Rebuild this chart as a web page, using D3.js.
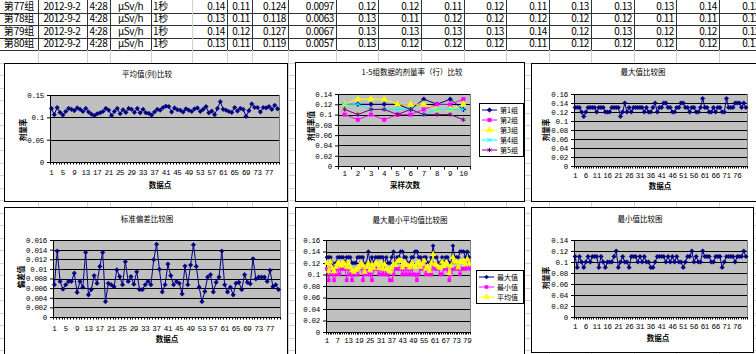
<!DOCTYPE html>
<html><head><meta charset="utf-8">
<script src="https://cdn.jsdelivr.net/npm/d3@7"></script>
<style>body{margin:0;background:#fff;overflow:hidden}svg{display:block}</style>
</head><body><svg id="c" width="756" height="354"></svg>
<script>
// ---------- data ----------
const tblGroup = ["第77组","第78组","第79组","第80组"];
const tblDate = ["2012-9-2","2012-9-2","2012-9-2","2012-9-2"];
const tblTime = ["4:28","4:28","4:28","4:28"];
const tblUnit = ["μSv/h","μSv/h","μSv/h","μSv/h"];
const tblInterval = ["1秒","1秒","1秒","1秒"];
const tblMax = [0.14,0.13,0.14,0.13];
const tblMin = [0.11,0.11,0.12,0.11];
const tblAvg = [0.124,0.118,0.127,0.119];
const tblSd = [0.0097,0.0063,0.0067,0.0057];
const tblSamples = [
 [0.12,0.12,0.11,0.12,0.11,0.13,0.13,0.13,0.14,0.13],
 [0.13,0.11,0.12,0.12,0.12,0.12,0.12,0.11,0.11,0.12],
 [0.13,0.13,0.13,0.13,0.14,0.12,0.13,0.12,0.12,0.12],
 [0.13,0.12,0.12,0.12,0.11,0.12,0.12,0.12,0.12,0.11]
];

const points = d3.range(1, 81);
const avgValues = [
 0.120,0.106,0.122,0.111,0.105,0.113,0.120,0.118,0.115,0.121,
 0.118,0.113,0.120,0.112,0.107,0.104,0.108,0.110,0.113,0.120,
 0.116,0.104,0.113,0.120,0.108,0.117,0.111,0.120,0.118,0.111,
 0.120,0.110,0.118,0.110,0.109,0.105,0.112,0.118,0.116,0.122,
 0.125,0.124,0.112,0.121,0.117,0.116,0.112,0.119,0.116,0.113,
 0.119,0.121,0.113,0.118,0.124,0.110,0.114,0.106,0.120,0.135,
 0.118,0.116,0.113,0.111,0.122,0.114,0.120,0.118,0.102,0.115,
 0.130,0.122,0.122,0.112,0.122,0.121,0.124,0.118,0.127,0.119];
const sdValues = [
 0.0067,0.0137,0.0074,0.0058,0.0067,0.0074,0.0074,0.0091,0.0051,0.0074,
 0.0062,0.0134,0.0046,0.0057,0.0086,0.0070,0.0105,0.0134,0.0032,0.0070,
 0.0067,0.0063,0.0098,0.0084,0.0067,0.0115,0.0074,0.0084,0.0068,0.0094,
 0.0057,0.0057,0.0067,0.0074,0.0067,0.0119,0.0151,0.0099,0.0052,0.0067,
 0.0110,0.0086,0.0067,0.0074,0.0070,0.0048,0.0106,0.0067,0.0108,0.0150,
 0.0105,0.0062,0.0032,0.0053,0.0083,0.0088,0.0052,0.0072,0.0083,0.0137,
 0.0067,0.0052,0.0062,0.0046,0.0070,0.0072,0.0057,0.0088,0.0072,0.0069,
 0.0121,0.0079,0.0083,0.0083,0.0083,0.0074,0.0097,0.0063,0.0067,0.0057];
const maxValues = [
 0.13,0.13,0.13,0.12,0.11,0.12,0.13,0.13,0.13,0.13,
 0.12,0.13,0.13,0.13,0.12,0.12,0.12,0.13,0.13,0.13,
 0.13,0.11,0.12,0.14,0.12,0.13,0.12,0.13,0.13,0.13,
 0.13,0.13,0.12,0.13,0.12,0.12,0.13,0.14,0.12,0.13,
 0.13,0.14,0.14,0.13,0.13,0.12,0.12,0.13,0.13,0.14,
 0.14,0.13,0.13,0.12,0.13,0.13,0.12,0.12,0.13,0.15,
 0.13,0.13,0.12,0.12,0.13,0.12,0.13,0.13,0.12,0.12,
 0.15,0.13,0.13,0.13,0.14,0.14,0.14,0.13,0.14,0.13];
const minValues = [
 0.11,0.09,0.11,0.10,0.09,0.10,0.11,0.10,0.11,0.11,
 0.11,0.09,0.11,0.10,0.09,0.10,0.10,0.10,0.11,0.12,
 0.09,0.10,0.11,0.10,0.10,0.09,0.11,0.11,0.11,0.10,
 0.11,0.10,0.11,0.10,0.10,0.09,0.09,0.10,0.11,0.11,
 0.11,0.11,0.10,0.11,0.10,0.11,0.10,0.11,0.10,0.10,
 0.09,0.10,0.11,0.11,0.12,0.10,0.11,0.10,0.10,0.12,
 0.11,0.11,0.11,0.10,0.10,0.11,0.11,0.11,0.09,0.10,
 0.11,0.11,0.11,0.11,0.10,0.11,0.11,0.11,0.12,0.11];

const samples = [1,2,3,4,5,6,7,8,9,10];
const group1 = [0.12,0.12,0.12,0.12,0.12,0.11,0.13,0.12,0.13,0.11];
const group2 = [0.10,0.09,0.10,0.09,0.10,0.10,0.11,0.12,0.12,0.13];
const group3 = [0.12,0.13,0.13,0.13,0.12,0.12,0.12,0.11,0.11,0.12];
const group4 = [0.12,0.12,0.11,0.11,0.11,0.11,0.10,0.11,0.11,0.11];
const group5 = [0.11,0.10,0.11,0.11,0.10,0.11,0.10,0.10,0.10,0.09];
const groupNames = ["第1组","第2组","第3组","第4组","第5组"];
const mmaNames = ["最大值","最小值","平均值"];

const ticks015 = [0,0.05,0.1,0.15];
const ticks014 = [0,0.02,0.04,0.06,0.08,0.1,0.12,0.14];
const ticks016 = [0,0.02,0.04,0.06,0.08,0.1,0.12,0.14,0.16];
const ticksSd = [0,0.002,0.004,0.006,0.008,0.01,0.012,0.014,0.016];

// ---------- drawing ----------
const NUM = '"Liberation Mono","DejaVu Sans Mono",monospace';
const CJK = '"Noto Sans CJK SC","Noto Sans",sans-serif';
const svg = d3.select("#c");

// spreadsheet grid
const colEdges = [38,87,110,151,192,227,252,288,336,378,421,464,506,549,591,634,676,719];
const gridG = svg.append("g");
for (let yy = 12.5; yy < 354; yy += 12.5) {
  const dark = yy <= 50;
  gridG.append("line").attr("x1",0).attr("x2",756).attr("y1",Math.round(yy)+.5).attr("y2",Math.round(yy)+.5)
    .attr("stroke", dark ? "#333" : "#d2d2d2");
}
colEdges.forEach(cx => {
  gridG.append("line").attr("x1",cx+.5).attr("x2",cx+.5).attr("y1",50).attr("y2",354).attr("stroke","#d2d2d2");
  gridG.append("line").attr("x1",cx+.5).attr("x2",cx+.5).attr("y1",0).attr("y2",50).attr("stroke", cx === 192 ? "#d2d2d2" : "#333");
});
// table text
const tg = svg.append("g").attr("font-family", CJK).attr("font-size", 10).attr("letter-spacing", -0.4).attr("fill", "#000");
const numRight = [227,252,288,336,378,421,464,506,549,591,634,676,719,762];
tblGroup.forEach((nm, r) => {
  const by = 6.3 + r * 12.5 + 3.6;
  tg.append("text").attr("x",19).attr("y",by).attr("text-anchor","middle").attr("letter-spacing",-0.2).text(nm);
  tg.append("text").attr("x",62).attr("y",by).attr("text-anchor","middle").text(tblDate[r]);
  tg.append("text").attr("x",98.5).attr("y",by).attr("text-anchor","middle").text(tblTime[r]);
  tg.append("text").attr("x",130.5).attr("y",by).attr("text-anchor","middle").text(tblUnit[r]);
  tg.append("text").attr("x",153).attr("y",by).attr("letter-spacing",-0.2).text(tblInterval[r]);
  const vals = [tblMax[r], tblMin[r], tblAvg[r], tblSd[r]].concat(tblSamples[r]);
  vals.forEach((v, i) => {
    tg.append("text").attr("x", numRight[i]-2).attr("y", by).attr("text-anchor","end").text(String(v));
  });
});

const symMap = {diamond:d3.symbolSquare, square:d3.symbolSquare, triangle:d3.symbolTriangle, times:d3.symbolTimes, asterisk:d3.symbolAsterisk};
function drawMarker(sel, s) {
  const stroke = s.marker === "times" || s.marker === "asterisk";
  sel.attr("d", d3.symbol().type(symMap[s.marker]).size(s.size)())
     .attr("fill", stroke ? "none" : s.color).attr("stroke", s.color).attr("stroke-width", stroke ? 1 : 0.3);
}

function drawChart(o) {
  const g = svg.append("g");
  const [bx0,by0,bx1,by1] = o.box;
  g.append("rect").attr("x",bx0+.5).attr("y",by0+.5).attr("width",bx1-bx0).attr("height",by1-by0)
    .attr("fill","#fff").attr("stroke","#000");
  const [px0,py0,px1,py1] = o.plot;
  const x = d3.scaleBand().domain(o.cats).range([px0,px1]);
  const y = d3.scaleLinear().domain([o.yTicks[0], o.yTicks[o.yTicks.length-1]]).range([py1,py0]);
  const bw = x.bandwidth();
  g.append("rect").attr("x",px0+.5).attr("y",py0+.5).attr("width",px1-px0).attr("height",py1-py0)
    .attr("fill","#c0c0c0").attr("stroke","#808080");
  g.selectAll(null).data(o.yTicks.slice(1)).join("line")
    .attr("x1",px0).attr("x2",px1)
    .attr("y1",d=>Math.round(y(d))+.5).attr("y2",d=>Math.round(y(d))+.5).attr("stroke","#000");
  const ya = g.append("g").attr("transform",`translate(${px0},0)`)
    .call(d3.axisLeft(y).tickValues(o.yTicks).tickSize(3).tickPadding(3).tickFormat(d=>String(d)));
  ya.select(".domain").attr("stroke","#000");
  ya.selectAll("line").attr("stroke","#000");
  ya.selectAll("text").attr("font-family",NUM).attr("font-size",7.5).attr("letter-spacing",-0.3).attr("fill","#000");
  // x axis
  g.append("line").attr("x1",px0).attr("x2",px1).attr("y1",py1+.5).attr("y2",py1+.5).attr("stroke","#000");
  const tks = o.cats.map(c=>x(c)).concat([px1]);
  g.selectAll(null).data(tks).join("line")
    .attr("x1",d=>Math.round(d)+.5).attr("x2",d=>Math.round(d)+.5)
    .attr("y1",py1).attr("y2",py1 + (o.cats.length > 20 ? 2.5 : 3.5)).attr("stroke","#000");
  g.selectAll(null).data(o.cats.filter((c,i)=>i%o.every===0)).join("text")
    .attr("x",c=>x(c)+bw/2).attr("y",o.xLabelY).attr("text-anchor","middle")
    .attr("font-family",NUM).attr("font-size",7.5).attr("letter-spacing",-0.3).text(c=>c);
  // series
  o.series.forEach(s => {
    const line = d3.line().x((d,i)=>x(o.cats[i])+bw/2).y(d=>y(d));
    g.append("path").attr("d",line(s.values)).attr("fill","none").attr("stroke",s.color).attr("stroke-width",1);
    g.selectAll(null).data(s.values).join("path")
      .attr("transform",(d,i)=>`translate(${x(o.cats[i])+bw/2},${y(d)})${s.marker==="diamond"?" rotate(45)":""}`)
      .call(drawMarker, s);
  });
  // titles
  g.append("text").attr("x",o.title[1]).attr("y",o.title[2]).attr("text-anchor","middle")
    .attr("font-family",CJK).attr("font-size",7.5).text(o.title[0]);
  if (o.xTitle) g.append("text").attr("x",o.xTitle[1]).attr("y",o.xTitle[2]).attr("text-anchor","middle")
    .attr("font-family",CJK).attr("font-size",7.5).attr("font-weight","bold").text(o.xTitle[0]);
  if (o.yTitle) g.append("text").attr("transform",`translate(${o.yTitle[1]},${o.yTitle[2]}) rotate(-90)`)
    .attr("text-anchor","middle").attr("dominant-baseline","central")
    .attr("font-family",CJK).attr("font-size",7.5).attr("font-weight","bold").text(o.yTitle[0]);
  if (o.legend) {
    const L = o.legend;
    g.append("rect").attr("x",L.box[0]+.5).attr("y",L.box[1]+.5).attr("width",L.box[2]-L.box[0]).attr("height",L.box[3]-L.box[1])
      .attr("fill","#fff").attr("stroke","#000");
    o.series.forEach((s,i) => {
      const ly = L.y0 + i*L.dy;
      g.append("line").attr("x1",L.box[0]+3).attr("x2",L.box[0]+18).attr("y1",ly).attr("y2",ly).attr("stroke",s.color);
      g.append("path").attr("transform",`translate(${L.box[0]+10.5},${ly})${s.marker==="diamond"?" rotate(45)":""}`).call(drawMarker, s);
      g.append("text").attr("x",L.box[0]+21).attr("y",ly+2.6).attr("font-family",CJK).attr("font-size",7).text(L.names[i]);
    });
  }
}

const NAVY="#000080", MAG="#ff00ff", YEL="#ffff00", CYAN="#00ffff", PURP="#800080";

drawChart({box:[4,63,287,201], plot:[50,95,279,162], cats:points, yTicks:ticks015, every:4, xLabelY:175,
  series:[{values:avgValues,color:NAVY,marker:"diamond",size:11}],
  title:["平均值(列)比较",147,77], xTitle:["数据点",160,188], yTitle:["剂量率",22,130]});

drawChart({box:[295,62,524,201], plot:[338,94,470,166], cats:samples, yTicks:ticks014, every:1, xLabelY:176,
  series:[{values:group1,color:NAVY,marker:"diamond",size:12},
          {values:group2,color:MAG,marker:"square",size:14},
          {values:group3,color:YEL,marker:"triangle",size:18},
          {values:group4,color:CYAN,marker:"times",size:14},
          {values:group5,color:PURP,marker:"asterisk",size:14}],
  title:["1-5组数据的剂量率（行）比较",412,75], xTitle:["采样次数",405,188], yTitle:["剂量率值",310,126],
  legend:{box:[479,103,523,156], y0:110, dy:10, names:groupNames}});

drawChart({box:[531,63,760,201], plot:[574,94,747,166], cats:points, yTicks:ticks016, every:5, xLabelY:178,
  series:[{values:maxValues,color:NAVY,marker:"diamond",size:11}],
  title:["最大值比较图",643,75], xTitle:["数据点",660,189], yTitle:["剂量率",545,130]});

drawChart({box:[4,207,287,360], plot:[53,240,280,317], cats:points, yTicks:ticksSd, every:4, xLabelY:331,
  series:[{values:sdValues,color:NAVY,marker:"diamond",size:11}],
  title:["标准偏差比较图",147,222], xTitle:["数据点",167,342], yTitle:["偏差值",20,277]});

drawChart({box:[295,207,524,360], plot:[326,240,470,332], cats:points, yTicks:ticks016, every:6, xLabelY:343,
  series:[{values:maxValues,color:NAVY,marker:"diamond",size:9},
          {values:minValues,color:MAG,marker:"square",size:11},
          {values:avgValues,color:YEL,marker:"triangle",size:14}],
  title:["最大最小平均值比较图",410,223],
  legend:{box:[476,270,523,303], y0:277, dy:10, names:mmaNames}});

drawChart({box:[531,207,753,352], plot:[574,240,747,317], cats:points, yTicks:ticks014, every:5, xLabelY:329,
  series:[{values:minValues,color:NAVY,marker:"diamond",size:11}],
  title:["最小值比较图",640,222], xTitle:["数据点",658,341], yTitle:["剂量率",545,278]});
</script>
</body></html>
